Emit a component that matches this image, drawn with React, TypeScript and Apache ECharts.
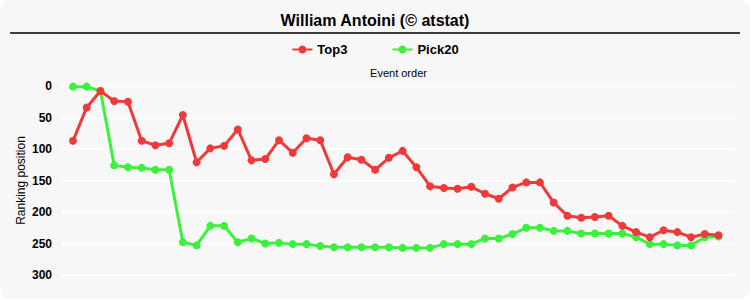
import React, { useEffect, useRef } from "react";
import * as echarts from "echarts";

const titleText = "William Antoini (© atstat)";
const seriesNames = ["Top3", "Pick20"];
const yTicks = [0, 50, 100, 150, 200, 250, 300];

const top3 = [87, 34, 8, 24, 25, 87, 94, 91, 46, 121, 99, 95, 69, 118, 116, 86, 106, 83, 86, 140, 113, 117, 133, 114, 103, 129, 159, 162, 163, 160, 171, 179, 161, 153, 153, 185, 206, 209, 208, 206, 222, 232, 240, 229, 232, 240, 235, 237];
const pick20 = [1, 1, 8, 126, 129, 130, 133, 133, 248, 253, 222, 222, 248, 242, 250, 249, 251, 251, 254, 256, 256, 256, 256, 256, 257, 257, 257, 251, 251, 251, 242, 242, 235, 225, 225, 230, 230, 234, 234, 234, 234, 240, 251, 251, 253, 253, 240, 239];

const RED = "#f03a3a";
const GREEN = "#3ef03e";

export default function App() {
  const ref = useRef<HTMLDivElement>(null);
  useEffect(() => {
    document.body.style.margin = "0";
    const chart = echarts.init(ref.current!, null, { renderer: "svg" });
    const toPts = (arr: number[]) => arr.map((v, i) => [i + 1, v]);
    chart.setOption({
      animation: false,
      backgroundColor: "#ffffff",
      textStyle: { fontFamily: "Liberation Sans, Arial, sans-serif" },
      graphic: [
        {
          type: "rect",
          z: -10,
          silent: true,
          shape: { x: 0, y: 0, width: 750, height: 299, r: 10 },
          style: { fill: "#f7f7f7" },
        },
        {
          type: "line",
          shape: { x1: 10, y1: 33, x2: 740, y2: 33 },
          style: { stroke: "#000", lineWidth: 1.5 },
        },
      ],
      title: {
        text: titleText,
        left: "center",
        top: 7,
        textStyle: { fontSize: 16, fontWeight: "bold", color: "#000", fontFamily: "Liberation Sans, Arial, sans-serif" },
      },
      legend: {
        top: 38,
        left: "center",
        itemGap: 44,
        itemWidth: 20,
        itemHeight: 10,
        textStyle: { fontSize: 13, fontWeight: "bold", color: "#000" },
        data: seriesNames,
      },
      grid: { left: 62, right: 15, top: 86, bottom: 25 },
      xAxis: {
        type: "value",
        position: "top",
        min: 0.2,
        max: 49.2,
        name: "Event order",
        nameLocation: "middle",
        nameGap: 8,
        nameTextStyle: { fontSize: 11, color: "#000" },
        axisLine: { show: false },
        axisTick: { show: false },
        axisLabel: { show: false },
        splitLine: { show: false },
      },
      yAxis: {
        type: "value",
        inverse: true,
        min: yTicks[0],
        max: yTicks[yTicks.length - 1],
        interval: 50,
        name: "Ranking position",
        nameLocation: "middle",
        nameGap: 35,
        nameMoveOverlap: false,
        nameTextStyle: { fontSize: 12, color: "#000" },
        axisLine: { show: false },
        axisTick: { show: false },
        axisLabel: { fontSize: 12, fontWeight: "bold", color: "#000", margin: 10 },
        splitLine: { show: true, lineStyle: { color: "#ffffff", width: 1.5 } },
      },
      series: [
        {
          name: seriesNames[0],
          type: "line",
          data: toPts(top3),
          color: RED,
          symbol: "circle",
          symbolSize: 8,
          lineStyle: { width: 3, color: RED },
          itemStyle: { color: RED },
        },
        {
          name: seriesNames[1],
          type: "line",
          data: toPts(pick20),
          color: GREEN,
          symbol: "circle",
          symbolSize: 8,
          lineStyle: { width: 3, color: GREEN },
          itemStyle: { color: GREEN },
          z: 1,
        },
      ],
    });
    return () => chart.dispose();
  }, []);
  return <div ref={ref} style={{ width: 750, height: 300 }} />;
}
